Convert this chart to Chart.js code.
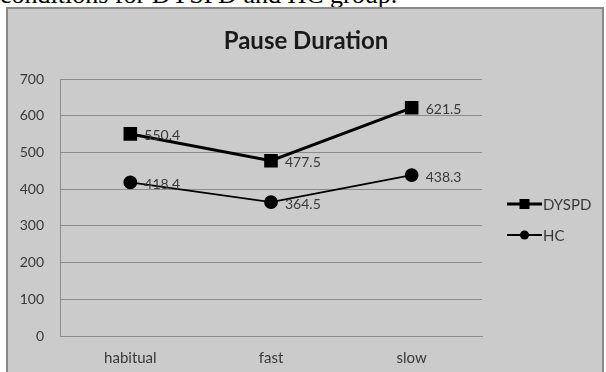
<!DOCTYPE html>
<html>
<head>
<meta charset="utf-8">
<script src="https://cdn.jsdelivr.net/npm/chart.js@4/dist/chart.umd.min.js"></script>
<style>
  body { margin: 0; background: #fff; width: 606px; height: 372px; overflow: hidden; position: relative; }
  #caption { position: absolute; left: 0; top: 0; width: 606px; height: 8px; overflow: hidden; }
  #caption span { position: absolute; left: 0; top: -18px; font: 26px "Liberation Serif", serif; line-height: 25px; color: #000; white-space: nowrap; }
  #box { position: absolute; left: 6px; top: 7px; width: 594px; height: 370px; border: 2px solid #8a8a8a; background: #cbcbcb; }
  canvas { display: block; }
</style>
</head>
<body>
<div id="caption"><span>conditions for DYSPD and HC group.</span></div>
<div id="box"><canvas id="chart" width="594" height="363"></canvas></div>
<script>
// Datos del grafico
const chartTitle = 'Pause Duration';
const categorias = ['habitual', 'fast', 'slow'];
const valoresDyspd = [550.4, 477.5, 621.5];
const valoresHc = [418.4, 364.5, 438.3];
const ticksY = [0, 100, 200, 300, 400, 500, 600, 700];

const FONT = 'Lato, "Open Sans", sans-serif';
const TEXT_COLOR = '#383838';
const GRID_COLOR = '#8c8c8c';

// Titulo arriba del grafico
const titlePlugin = {
    id: 'titulo',
    afterDraw(chart) {
        const ctx = chart.ctx;
        ctx.save();
        ctx.font = 'bold 24px ' + FONT;
        ctx.fillStyle = '#1a1a1a';
        ctx.textAlign = 'center';
        ctx.textBaseline = 'middle';
        ctx.fillText(chartTitle, 298, 32);
        ctx.restore();
    }
};

// Etiquetas de valores a la derecha de cada punto
const valueLabels = {
    id: 'valores',
    afterDatasetsDraw(chart) {
        const ctx = chart.ctx;
        ctx.save();
        ctx.font = '14px ' + FONT;
        ctx.fillStyle = TEXT_COLOR;
        ctx.textAlign = 'left';
        ctx.textBaseline = 'middle';
        chart.data.datasets.forEach((ds, i) => {
            chart.getDatasetMeta(i).data.forEach((pt, j) => {
                ctx.fillText(ds.data[j].toFixed(1), pt.x + 14, pt.y + 2);
            });
        });
        ctx.restore();
    }
};

// Leyenda con linea + marcador (estilo Excel)
const lineLegend = {
    id: 'leyenda',
    afterDraw(chart) {
        const ctx = chart.ctx;
        const x0 = 499, x1 = 534;
        const ys = [195, 226];
        ctx.save();
        chart.data.datasets.forEach((ds, i) => {
            const y = ys[i];
            ctx.strokeStyle = '#000';
            ctx.lineWidth = ds.borderWidth;
            ctx.beginPath();
            ctx.moveTo(x0, y);
            ctx.lineTo(x1, y);
            ctx.stroke();
            ctx.fillStyle = '#000';
            const cx = (x0 + x1) / 2;
            if (ds.pointStyle === 'rect') {
                ctx.fillRect(cx - 5, y - 5, 10, 10);
            } else {
                ctx.beginPath();
                ctx.arc(cx, y, 4.5, 0, Math.PI * 2);
                ctx.fill();
            }
            ctx.font = '15px ' + FONT;
            ctx.fillStyle = TEXT_COLOR;
            ctx.textBaseline = 'middle';
            ctx.fillText(ds.label, x1 + 1, y + 1);
        });
        ctx.restore();
    }
};

new Chart(document.getElementById('chart'), {
    type: 'line',
    data: {
        labels: categorias,
        datasets: [
            {
                label: 'DYSPD', data: valoresDyspd,
                borderColor: '#000', backgroundColor: '#000', borderWidth: 3,
                pointStyle: 'rect', pointRadius: 7.5, pointHoverRadius: 7.5, tension: 0
            },
            {
                label: 'HC', data: valoresHc,
                borderColor: '#000', backgroundColor: '#000', borderWidth: 1.8,
                pointStyle: 'circle', pointRadius: 6, pointHoverRadius: 6, tension: 0
            }
        ]
    },
    options: {
        responsive: false,
        animation: false,
        devicePixelRatio: 1,
        layout: { padding: { top: 70, right: 120, bottom: 0, left: 0 } },
        plugins: { legend: { display: false }, title: { display: false }, tooltip: { enabled: false } },
        scales: {
            x: {
                offset: true,
                grid: { display: false, drawTicks: false },
                border: { display: true, color: GRID_COLOR, width: 1 },
                ticks: { color: TEXT_COLOR, font: { family: FONT, size: 15 }, padding: 13 },
                afterFit: s => { s.height = 36; }
            },
            y: {
                min: 0, max: 700,
                afterBuildTicks: s => { s.ticks = ticksY.map(v => ({ value: v })); },
                grid: { color: GRID_COLOR, lineWidth: 1, drawTicks: false },
                border: { display: true, color: GRID_COLOR, width: 1 },
                ticks: { color: TEXT_COLOR, font: { family: FONT, size: 14 }, padding: 16 },
                afterFit: s => { s.width = 52; }
            }
        }
    },
    plugins: [titlePlugin, valueLabels, lineLegend]
});
</script>
</body>
</html>
